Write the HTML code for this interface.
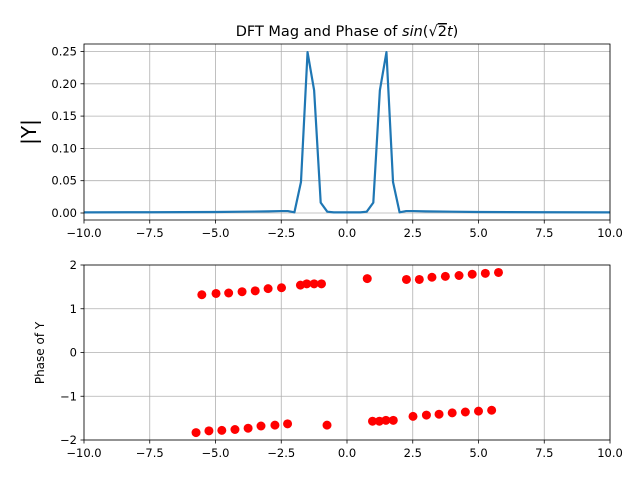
<!DOCTYPE html>
<html><head><meta charset="utf-8"><style>
body{margin:0;background:#fff}
svg{display:block;font-family:"DejaVu Sans","Liberation Sans",sans-serif}
</style></head><body>
<svg id="chart" width="640" height="480">
<rect width="640" height="480" fill="#fff"/>
<text x="347" y="36" text-anchor="middle" font-size="14.5">DFT Mag and Phase of <tspan font-style="italic">sin</tspan>(√<tspan text-decoration="overline">2</tspan><tspan font-style="italic">t</tspan>)</text>
<g id="topG"></g>
<g id="botG"></g>
<text transform="translate(36,132) rotate(-90)" text-anchor="middle" font-size="20">|Y|</text>
<text transform="translate(44,353) rotate(-90)" text-anchor="middle" font-size="12">Phase of Y</text>
</svg>
<script>
const xTicks=[-10,-7.5,-5,-2.5,0,2.5,5,7.5,10];
const xTickLabels=["−10.0","−7.5","−5.0","−2.5","0.0","2.5","5.0","7.5","10.0"];
const magYTicks=[0,0.05,0.10,0.15,0.20,0.25];
const magYTickLabels=["0.00","0.05","0.10","0.15","0.20","0.25"];
const phaseYTicks=[-2,-1,0,1,2];
const phaseYTickLabels=["−2","−1","0","1","2"];
const magX=[-10,-7.5,-5,-4,-3,-2.5,-2.25,-2,-1.75,-1.5,-1.25,-1,-0.75,-0.5,0,0.5,0.75,1,1.25,1.5,1.75,2,2.25,2.5,3,4,5,7.5,10];
const magY=[0.001,0.0012,0.0015,0.002,0.0025,0.003,0.003,0.001,0.048,0.249,0.19,0.016,0.002,0.001,0.001,0.001,0.002,0.016,0.19,0.249,0.048,0.001,0.003,0.003,0.0025,0.002,0.0015,0.0012,0.001];
const phaseX=[-5.52,-4.98,-4.50,-3.99,-3.49,-3.00,-2.49,-1.77,-1.53,-1.25,-0.97,0.77,2.26,2.75,3.23,3.74,4.26,4.76,5.26,5.76,
 -5.74,-5.25,-4.76,-4.26,-3.76,-3.27,-2.74,-2.26,-0.76,0.97,1.23,1.48,1.76,2.51,3.02,3.50,4.00,4.50,5.00,5.50];
const phaseY=[1.32,1.35,1.36,1.39,1.41,1.46,1.48,1.54,1.57,1.57,1.57,1.69,1.67,1.67,1.72,1.74,1.76,1.79,1.81,1.83,
 -1.83,-1.79,-1.78,-1.76,-1.73,-1.68,-1.66,-1.63,-1.66,-1.57,-1.57,-1.55,-1.55,-1.46,-1.43,-1.41,-1.38,-1.36,-1.34,-1.32];
const NS="http://www.w3.org/2000/svg";
const L=84,R=610;
const sx=v=>L+(v+10)/20*(R-L);
const T1=44,B1=220,syM=v=>213-v*646;
const T2=265,B2=440,syP=v=>352.5-v*43.75;
function mk(p,t,a){const e=document.createElementNS(NS,t);for(const k in a)e.setAttribute(k,a[k]);p.appendChild(e);return e;}
function axes(g,T,B,sy,yt,ytl,pre){
  xTicks.forEach((v,i)=>{
    const l=mk(g,'line',{x1:sx(v),x2:sx(v),y1:T,y2:B,stroke:'#b0b0b0','stroke-width':0.8});
    
    
    const tk=mk(g,'line',{x1:sx(v),x2:sx(v),y1:B,y2:B+3.5,stroke:'#000','stroke-width':0.8});
    
    
    const t=mk(g,'text',{x:sx(v),y:B+17,'text-anchor':'middle','font-size':11.5});
    t.textContent=xTickLabels[i];
    
    
  });
  yt.forEach((v,i)=>{
    const l=mk(g,'line',{x1:L,x2:R,y1:sy(v),y2:sy(v),stroke:'#b0b0b0','stroke-width':0.8});
    
    
    const tk=mk(g,'line',{x1:L-3.5,x2:L,y1:sy(v),y2:sy(v),stroke:'#000','stroke-width':0.8});
    
    
    const t=mk(g,'text',{x:L-7,y:sy(v)+4,'text-anchor':'end','font-size':11.5});
    t.textContent=ytl[i];
    
    
  });
}
function frame(g,T,B,pre){
  const r=mk(g,'rect',{x:L,y:T,width:R-L,height:B-T,fill:'none',stroke:'#000','stroke-width':0.8});
  
  
}
const topG=document.getElementById('topG'),botG=document.getElementById('botG');
axes(topG,T1,B1,syM,magYTicks,magYTickLabels,'mag-');
const pl=mk(topG,'polyline',{points:magX.map((x,i)=>sx(x)+','+syM(magY[i])).join(' '),fill:'none',stroke:'#1f77b4','stroke-width':2.2,'stroke-linejoin':'round'});


frame(topG,T1,B1,'mag-');
axes(botG,T2,B2,syP,phaseYTicks,phaseYTickLabels,'phase-');
phaseX.forEach((x,i)=>{
  const c=mk(botG,'circle',{cx:sx(x),cy:syP(phaseY[i]),r:4.5,fill:'#ff0000'});
  
  
});
frame(botG,T2,B2,'phase-');
</script>
</body></html>
